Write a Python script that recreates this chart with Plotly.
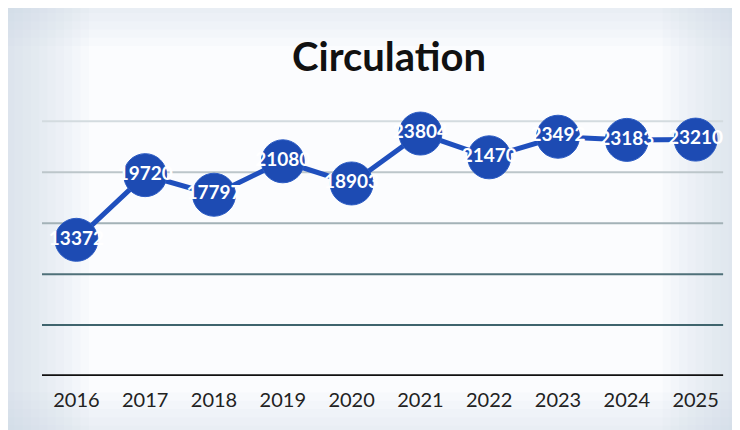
import plotly.graph_objects as go

years = ["2016", "2017", "2018", "2019", "2020", "2021", "2022", "2023", "2024", "2025"]
circulation = [13372, 19720, 17797, 21080, 18903, 23804, 21470, 23492, 23183, 23210]
grid_values = [5000, 10000, 15000, 20000, 25000]
grid_colors = ["#3f646d", "#4f7079", "#a3b2b7", "#bcc6ca", "#d3dbdf"]

fig = go.Figure()
fig.add_trace(go.Scatter(
    x=years, y=circulation, mode="lines+markers+text",
    text=[str(v) for v in circulation], textposition="middle center",
    textfont=dict(family="Lato", size=19, color="white", weight="bold"),
    line=dict(color="#1f4fbd", width=5),
    marker=dict(size=43, color="#1d4bb3", line=dict(color="#2c5cc4", width=1)),
    cliponaxis=False, showlegend=False,
))

shapes = []
# soft bluish edges (scan look)
for i in range(10):
    w = 0.01 + i * 0.012
    shapes.append(dict(type="rect", xref="paper", yref="paper", x0=-0.1, x1=-0.05 + w,
                       y0=-0.3, y1=1.4, fillcolor="#c3d4e8", opacity=0.07, line_width=0, layer="below"))
    shapes.append(dict(type="rect", xref="paper", yref="paper", x0=1.02 - w, x1=1.1,
                       y0=-0.3, y1=1.4, fillcolor="#c3d4e8", opacity=0.07, line_width=0, layer="below"))
for i in range(5):
    h = 0.02 + i * 0.03
    shapes.append(dict(type="rect", xref="paper", yref="paper", x0=-0.1, x1=1.1,
                       y0=1.34 - h, y1=1.4, fillcolor="#c3d4e8", opacity=0.07, line_width=0, layer="below"))
    shapes.append(dict(type="rect", xref="paper", yref="paper", x0=-0.1, x1=1.1,
                       y0=-0.3, y1=-0.2 + h, fillcolor="#c3d4e8", opacity=0.07, line_width=0, layer="below"))
for gv, gc in zip(grid_values, grid_colors):
    shapes.append(dict(type="line", xref="paper", yref="y", x0=0, x1=0.99, y0=gv, y1=gv,
                       line=dict(color=gc, width=2), layer="below"))
shapes.append(dict(type="line", xref="paper", yref="y", x0=0, x1=0.99, y0=0, y1=0,
                   line=dict(color="#111111", width=3.5), layer="below"))

fig.update_layout(
    width=740, height=430,
    margin=dict(l=34, r=18, t=93, b=62),
    paper_bgcolor="#fbfcfe", plot_bgcolor="rgba(0,0,0,0)",
    title=dict(text="<b>Circulation</b>", x=0.515, xanchor="center", y=0.885, yanchor="middle",
               font=dict(family="Lato", size=40, color="#111111")),
    shapes=shapes,
    xaxis=dict(type="category", range=[-0.5, 9.5], showgrid=False, showline=False, zeroline=False,
               ticks="outside", ticklen=6, tickcolor="rgba(0,0,0,0)",
               tickfont=dict(family="Lato", size=20, color="#222222")),
    yaxis=dict(range=[0, 27000], showgrid=False, zeroline=False, showticklabels=False, showline=False),
)

fig.write_html("out.html")
